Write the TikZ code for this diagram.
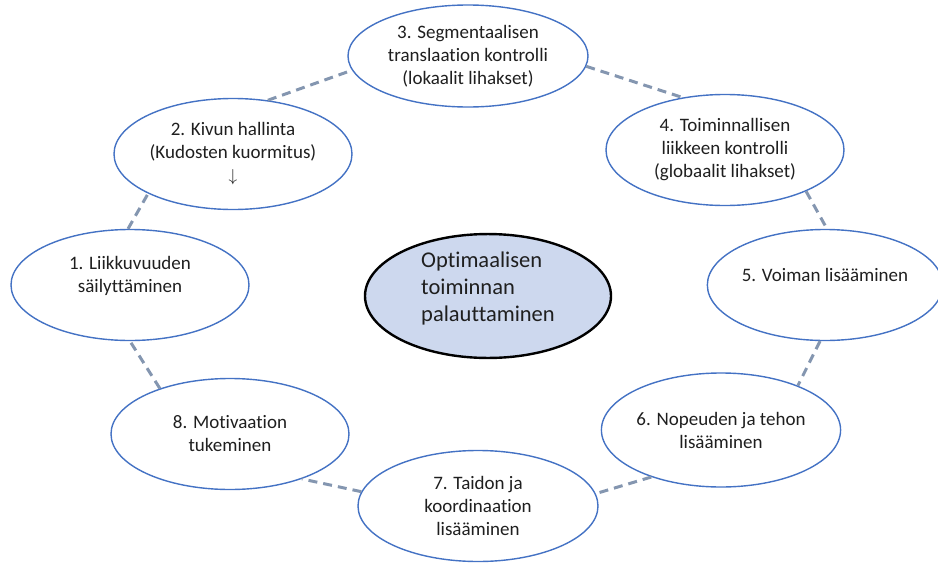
\documentclass[tikz,border=0pt]{standalone}
\usepackage{fontspec}
\setmainfont{Carlito}[Ligatures=NoCommon]
\usepackage{xcolor}
\usepackage{tikz}
\usetikzlibrary{shapes.geometric}

\definecolor{ringblue}{HTML}{4472C4}
\definecolor{dashgrey}{HTML}{8496B0}
\definecolor{corefill}{HTML}{CDD8EE}

\begin{document}
\begin{tikzpicture}[x=1pt, y=-1pt,
  stage/.style={ellipse, draw=ringblue, line width=1.4pt, fill=white, inner sep=0pt,
    minimum width=238pt, minimum height=111pt, align=center, text=black!88,
    font=\fontsize{19}{23}\selectfont},
  core/.style={ellipse, draw=black, line width=2.4pt, fill=corefill, inner sep=0pt,
    minimum width=246pt, minimum height=120pt, align=left, text=black!88,
    font=\fontsize{22.5}{27}\selectfont},
  link/.style={draw=dashgrey, line width=3pt, dash pattern=on 9pt off 6pt},
]
\useasboundingbox (0,0) rectangle (938,565);

\node[core, text depth=18pt] (goal) at (488,296) {Optimaalisen\\toiminnan\\palauttaminen};

\node[stage, text depth=21pt] (s1) at (130,285) {1. Liikkuvuuden\\säilyttäminen};
\node[stage] (s2) at (233,154) {2. Kivun hallinta\\(Kudosten kuormitus)\\$\downarrow$};
\node[stage, minimum width=240pt, minimum height=102pt] (s3) at (468,56) {3. Segmentaalisen\\translaation kontrolli\\(lokaalit lihakset)};
\node[stage] (s4) at (725,150) {4. Toiminnallisen\\liikkeen kontrolli\\(globaalit lihakset)};
\node[stage, minimum width=229pt, text depth=21pt] (s5) at (825,285) {5. Voiman lisääminen};
\node[stage, minimum height=114pt] (s6) at (721,430) {6. Nopeuden ja tehon\\lisääminen};
\node[stage, minimum width=240pt] (s7) at (478,506) {7. Taidon ja\\koordinaation\\lisääminen};
\node[stage] (s8) at (230,434) {8. Motivaation\\tukeminen};

% dashed ring between the stages
\draw[link] (s1.92) -- (s2.205);
\draw[link] (s2.57) -- (s3.187);
\draw[link] (s3.355) -- (s4.129);
\draw[link] (s4.333) -- (s5.88);
\draw[link] (s5.265) -- (s6.30);
\draw[link] (s6.214) -- (s7.6);
\draw[link] (s7.173) -- (s8.328);
\draw[link] (s8.147) -- (s1.270);

\end{tikzpicture}
\end{document}
